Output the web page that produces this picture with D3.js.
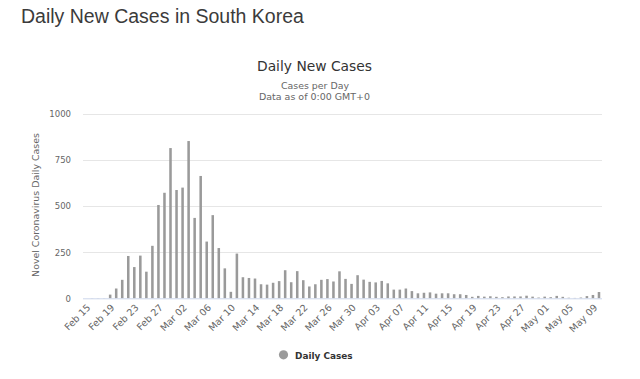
<!DOCTYPE html>
<html>
<head>
<meta charset="utf-8">
<script src="https://cdn.jsdelivr.net/npm/d3@7"></script>
<style>
  html, body { margin: 0; padding: 0; background: #ffffff; }
  svg { display: block; }
</style>
</head>
<body>
<svg id="chart" width="640" height="379"></svg>
<script>
// ---- data ----
const pageTitle = "Daily New Cases in South Korea";
const chartTitle = "Daily New Cases";
const subtitle1 = "Cases per Day";
const subtitle2 = "Data as of 0:00 GMT+0";
const yAxisTitle = "Novel Coronavirus Daily Cases";
const seriesName = "Daily Cases";

const dates = [
  "Feb 15","Feb 16","Feb 17","Feb 18","Feb 19","Feb 20","Feb 21","Feb 22","Feb 23","Feb 24",
  "Feb 25","Feb 26","Feb 27","Feb 28","Feb 29","Mar 01","Mar 02","Mar 03","Mar 04","Mar 05",
  "Mar 06","Mar 07","Mar 08","Mar 09","Mar 10","Mar 11","Mar 12","Mar 13","Mar 14","Mar 15",
  "Mar 16","Mar 17","Mar 18","Mar 19","Mar 20","Mar 21","Mar 22","Mar 23","Mar 24","Mar 25",
  "Mar 26","Mar 27","Mar 28","Mar 29","Mar 30","Mar 31","Apr 01","Apr 02","Apr 03","Apr 04",
  "Apr 05","Apr 06","Apr 07","Apr 08","Apr 09","Apr 10","Apr 11","Apr 12","Apr 13","Apr 14",
  "Apr 15","Apr 16","Apr 17","Apr 18","Apr 19","Apr 20","Apr 21","Apr 22","Apr 23","Apr 24",
  "Apr 25","Apr 26","Apr 27","Apr 28","Apr 29","Apr 30","May 01","May 02","May 03","May 04",
  "May 05","May 06","May 07","May 08","May 09","May 10"
];
const dailyCases = [
  0, 1, 1, 1, 20, 53, 100, 229, 169, 231,
  144, 284, 505, 571, 813, 586, 599, 851, 435, 662,
  307, 450, 272, 162, 35, 242, 114, 110, 107, 76,
  74, 84, 93, 152, 87, 147, 98, 64, 76, 100,
  104, 91, 146, 105, 78, 125, 101, 89, 86, 94,
  81, 47, 47, 53, 39, 27, 30, 32, 25, 27,
  27, 22, 22, 18, 8, 13, 9, 11, 8, 6,
  10, 10, 10, 14, 9, 4, 9, 6, 13, 8,
  3, 2, 4, 12, 18, 34
];
const xTickLabels = [
  "Feb 15","Feb 19","Feb 23","Feb 27","Mar 02","Mar 06","Mar 10","Mar 14","Mar 18","Mar 22",
  "Mar 26","Mar 30","Apr 03","Apr 07","Apr 11","Apr 15","Apr 19","Apr 23","Apr 27","May 01",
  "May 05","May 09"
];
const yTicks = [0, 250, 500, 750, 1000];

// ---- layout ----
const svg = d3.select("#chart");
const plot = { left: 83, right: 602, top: 113.5, bottom: 298.3 };
const chartFont = "'DejaVu Sans', 'Open Sans', sans-serif";
const titleFont = "'Liberation Sans', Arial, sans-serif";

function fitText(sel, target) {
  const node = sel.node();
  const fs = parseFloat(sel.attr("font-size"));
  const w = node.getComputedTextLength();
  if (w > 0) sel.attr("font-size", (fs * target / w).toFixed(2));
  return sel;
}

const x = d3.scaleBand()
  .domain(dates)
  .range([plot.left, plot.right])
  .paddingInner(0.58)
  .paddingOuter(0.29);

const y = d3.scaleLinear()
  .domain([0, 1000])
  .range([plot.bottom, plot.top]);

// page title
svg.append("text")
  .attr("x", 21).attr("y", 22.5)
  .attr("font-family", titleFont).attr("font-size", 20)
  .attr("fill", "#3b3b3b")
  .text(pageTitle)
  .call(fitText, 283);

// chart titles
svg.append("text")
  .attr("x", 314.5).attr("y", 70.5)
  .attr("text-anchor", "middle")
  .attr("font-family", chartFont).attr("font-size", 14)
  .attr("fill", "#333333")
  .text(chartTitle)
  .call(fitText, 115);

svg.append("text")
  .attr("x", 315).attr("y", 88.5)
  .attr("text-anchor", "middle")
  .attr("font-family", chartFont).attr("font-size", 10)
  .attr("fill", "#666666")
  .text(subtitle1)
  .call(fitText, 68);

svg.append("text")
  .attr("x", 314.5).attr("y", 99.8)
  .attr("text-anchor", "middle")
  .attr("font-family", chartFont).attr("font-size", 10)
  .attr("fill", "#666666")
  .text(subtitle2)
  .call(fitText, 111);

// gridlines
svg.append("g")
  .selectAll("line")
  .data(yTicks.filter(d => d > 0))
  .join("line")
  .attr("x1", plot.left).attr("x2", plot.right)
  .attr("y1", d => Math.round(y(d)) + 0.5).attr("y2", d => Math.round(y(d)) + 0.5)
  .attr("stroke", "#e6e6e6").attr("stroke-width", 1);

// y axis (labels only)
const yAxis = d3.axisLeft(y).tickValues(yTicks).tickFormat(d3.format("d")).tickSize(0).tickPadding(0);
const yg = svg.append("g")
  .attr("transform", `translate(71,0)`)
  .call(yAxis);
yg.select(".domain").remove();
yg.selectAll("text")
  .attr("font-family", chartFont)
  .attr("font-size", 9)
  .attr("fill", "#666666")
  .attr("dy", "0.35em");
const probe = yg.selectAll("text").filter(d => d === 1000);
const wProbe = probe.node().getComputedTextLength();
const tickFs = 9 * 21.7 / wProbe;
yg.selectAll("text").attr("font-size", tickFs.toFixed(2));

// y axis title
svg.append("text")
  .attr("transform", "translate(38.5,205) rotate(-90)")
  .attr("text-anchor", "middle")
  .attr("font-family", chartFont).attr("font-size", 10)
  .attr("fill", "#666666")
  .text(yAxisTitle)
  .call(fitText, 144);

// bars
svg.append("g")
  .selectAll("rect")
  .data(dates.map((d, i) => ({ date: d, value: dailyCases[i] })))
  .join("rect")
  .attr("x", d => x(d.date))
  .attr("width", x.bandwidth())
  .attr("y", d => y(d.value))
  .attr("height", d => y(0) - y(d.value))
  .attr("fill", "#9a9a9a");

// x axis
const xAxis = d3.axisBottom(x).tickValues(xTickLabels).tickSize(0).tickPadding(0);
const xg = svg.append("g")
  .attr("transform", `translate(0,${plot.bottom})`)
  .call(xAxis);
xg.select(".domain")
  .attr("stroke", "#ccd6eb")
  .attr("d", `M${plot.left},0.5H${plot.right}`);
const xTexts = xg.selectAll("text")
  .attr("font-family", chartFont)
  .attr("font-size", 9)
  .attr("fill", "#666666")
  .attr("text-anchor", "end")
  .attr("y", 0).attr("dy", 0);
const xProbeW = xTexts.filter(d => d === "Feb 15").node().getComputedTextLength();
xTexts.attr("font-size", (9 * 32 / xProbeW).toFixed(2))
  .attr("transform", "translate(5,10) rotate(-45)");

// legend
const legend = svg.append("g");
legend.append("circle")
  .attr("cx", 283.5).attr("cy", 354.8).attr("r", 4.6)
  .attr("fill", "#9a9a9a");
legend.append("text")
  .attr("x", 295).attr("y", 358.5)
  .attr("font-family", chartFont).attr("font-size", 10).attr("font-weight", "bold")
  .attr("fill", "#333333")
  .text(seriesName)
  .call(fitText, 57.7);
</script>
</body>
</html>
